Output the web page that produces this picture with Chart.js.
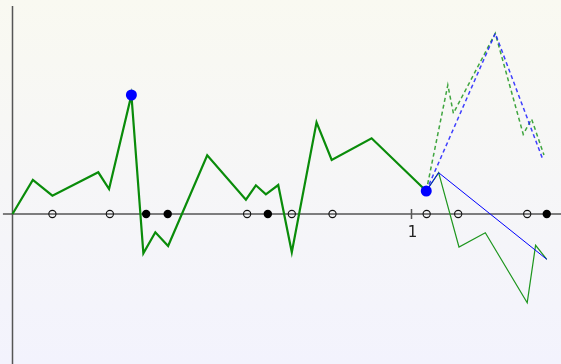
<!DOCTYPE html>
<html>
<head>
<meta charset="utf-8">
<script src="https://cdn.jsdelivr.net/npm/chart.js@4"></script>
<style>
  html, body { margin: 0; padding: 0; background: #f6f6f6; }
  canvas { display: block; }
</style>
</head>
<body>
<canvas id="myChart" width="561" height="364"></canvas>
<script>
// history line (thick green)
const historyX = [0, 0.051, 0.10, 0.215, 0.242, 0.298, 0.328, 0.358, 0.39, 0.488, 0.585, 0.61, 0.635, 0.666, 0.70, 0.762, 0.80, 0.90, 1.037]
const historyY = [0, 0.34, 0.183, 0.417, 0.25, 1.19, -0.393, -0.183, -0.32, 0.587, 0.143, 0.287, 0.197, 0.29, -0.383, 0.917, 0.54, 0.757, 0.23]

// forecasts going down (thin solid)
const downGreenX = [1.037, 1.068, 1.119, 1.185, 1.290, 1.311, 1.339]
const downGreenY = [0.23, 0.413, -0.33, -0.187, -0.887, -0.313, -0.453]
const downBlueX = [1.037, 1.068, 1.339]
const downBlueY = [0.23, 0.413, -0.453]

// forecasts going up (dashed)
const upGreenX = [1.037, 1.091, 1.105, 1.21, 1.280, 1.301, 1.332]
const upGreenY = [0.23, 1.29, 1.007, 1.807, 0.797, 0.95, 0.59]
const upBlueX = [1.037, 1.21, 1.328]
const upBlueY = [0.23, 1.807, 0.557]

// highlighted points
const highlightX = [0.298, 1.037]
const highlightY = [1.19, 0.23]

// markers on the x axis
const openMarks = [0.10, 0.244, 0.588, 0.70, 0.802, 1.038, 1.117, 1.290]
const filledMarks = [0.335, 0.389, 0.640, 1.339]

const xTicks = [1]

const pts = (xs, ys) => xs.map((x, i) => ({ x: x, y: ys[i] }))
const onAxis = xs => xs.map(x => ({ x: x, y: 0 }))

const GREEN = 'rgb(10,140,10)'
const BLUE = 'rgb(0,0,255)'

const background = {
    id: 'background',
    beforeDraw(chart) {
        const ctx = chart.ctx
        const g = ctx.createLinearGradient(0, 0, 0, chart.height)
        g.addColorStop(0, '#f9f9f1')
        g.addColorStop(1, '#f3f3fd')
        ctx.save()
        ctx.fillStyle = g
        ctx.fillRect(0, 0, chart.width, chart.height)
        ctx.restore()
    }
}

const axes = {
    id: 'axes',
    beforeDatasetsDraw(chart) {
        const { ctx, scales: { x, y } } = chart
        const x0 = x.getPixelForValue(0)
        const y0 = y.getPixelForValue(0)
        ctx.save()
        ctx.strokeStyle = '#555'
        ctx.lineWidth = 1.5
        ctx.beginPath()
        ctx.moveTo(x0, y.getPixelForValue(2.08))
        ctx.lineTo(x0, chart.height)
        ctx.moveTo(x.getPixelForValue(-0.024), y0)
        ctx.lineTo(chart.width, y0)
        xTicks.forEach(t => {
            const px = x.getPixelForValue(t)
            ctx.moveTo(px, y0 - 5)
            ctx.lineTo(px, y0 + 5)
        })
        ctx.stroke()
        ctx.fillStyle = '#222'
        ctx.font = '15px "DejaVu Sans", sans-serif'
        ctx.textAlign = 'center'
        ctx.textBaseline = 'middle'
        xTicks.forEach(t => ctx.fillText(String(t), x.getPixelForValue(t) + 1, y0 + 19))
        ctx.restore()
    }
}

const chart = new Chart('myChart', {
    type: 'scatter',
    data: {
        datasets: [
            { data: pts(highlightX, highlightY), pointRadius: 5.5, pointBackgroundColor: BLUE, pointBorderWidth: 0, order: 0 },
            { data: pts(historyX, historyY), showLine: true, borderColor: GREEN, borderWidth: 2.2, pointRadius: 0, order: 1 },
            { data: pts(downBlueX, downBlueY), showLine: true, borderColor: BLUE, borderWidth: 1, pointRadius: 0, order: 2 },
            { data: pts(downGreenX, downGreenY), showLine: true, borderColor: 'rgb(30,150,30)', borderWidth: 1.2, pointRadius: 0, order: 3 },
            { data: pts(upBlueX, upBlueY), showLine: true, borderColor: 'rgba(30,30,255,0.85)', borderWidth: 1.5, borderDash: [4, 3], pointRadius: 0, order: 4 },
            { data: pts(upGreenX, upGreenY), showLine: true, borderColor: 'rgba(30,150,30,0.85)', borderWidth: 1.5, borderDash: [4, 3], pointRadius: 0, order: 5 },
            { data: onAxis(filledMarks), pointRadius: 4.2, pointBackgroundColor: '#000', pointBorderWidth: 0, order: 6 },
            { data: onAxis(openMarks), pointRadius: 3.6, pointBackgroundColor: 'rgba(0,0,0,0)', pointBorderColor: '#111', pointBorderWidth: 1.1, order: 7 }
        ]
    },
    options: {
        responsive: false,
        animation: false,
        layout: { padding: 0, autoPadding: false },
        plugins: { legend: { display: false }, tooltip: { enabled: false } },
        scales: {
            x: { type: 'linear', min: -12.5 / 399, max: 548.5 / 399, display: false },
            y: { type: 'linear', min: -1.5, max: 2.14, display: false }
        }
    },
    plugins: [background, axes]
});
</script>
</body>
</html>
